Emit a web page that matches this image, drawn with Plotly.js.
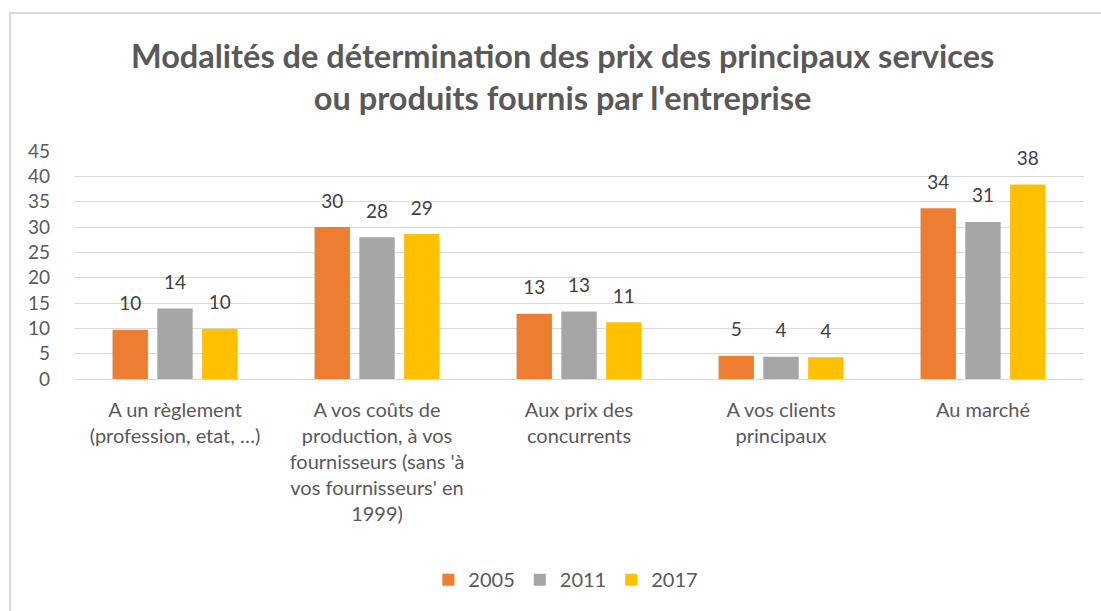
<!DOCTYPE html>
<html>
<head>
<meta charset="utf-8">
<script src="https://cdn.plot.ly/plotly-3.0.1.min.js"></script>
<style>
  html, body { margin: 0; padding: 0; background: #ffffff; }
  #wrap { position: relative; width: 1101px; height: 611px; overflow: hidden; }
  #chart { position: absolute; left: 0; top: 0; width: 1101px; height: 611px; }
  #frame { position: absolute; left: 9px; top: 12px; width: 1200px; height: 700px;
           border-left: 2px solid #d9d9d9; border-top: 2px solid #d9d9d9; pointer-events: none; }
</style>
</head>
<body>
<div id="wrap">
  <div id="chart"></div>
  <div id="frame"></div>
</div>
<script>
const categories = [
  "A un règlement<br>(profession, etat, …)",
  "A vos coûts de<br>production, à vos<br>fournisseurs (sans 'à<br>vos fournisseurs' en<br>1999)",
  "Aux prix des<br>concurrents",
  "A vos clients<br>principaux",
  "Au marché"
];
const seriesNames = ["2005", "2011", "2017"];
const values2005 = [9.7, 30.0, 12.9, 4.6, 33.7];
const values2011 = [13.9, 28.0, 13.3, 4.4, 31.0];
const values2017 = [9.9, 28.6, 11.2, 4.3, 38.4];
const colors = ["#ED7D31", "#A5A5A5", "#FFC000"];
const yTicks = [0, 5, 10, 15, 20, 25, 30, 35, 40, 45];

const FONT = "Lato, 'Open Sans', sans-serif";
const allValues = [values2005, values2011, values2017];

const traces = [];
allValues.forEach((vals, i) => {
  traces.push({
    type: "bar",
    name: seriesNames[i],
    x: categories,
    y: vals,
    marker: { color: colors[i] },
    hoverinfo: "x+y"
  });
});
allValues.forEach((vals, i) => {
  traces.push({
    type: "scatter",
    mode: "markers+text",
    x: categories,
    y: vals,
    text: vals.map(v => String(Math.round(v))),
    textposition: "top center",
    textfont: { family: FONT, size: 19, color: "#404040" },
    marker: { size: 22, opacity: 0, color: colors[i] },
    showlegend: false,
    hoverinfo: "skip",
    cliponaxis: false
  });
});

const layout = {
  width: 1101,
  height: 611,
  paper_bgcolor: "#ffffff",
  plot_bgcolor: "#ffffff",
  margin: { l: 74, r: 17, t: 151, b: 232, pad: 0 },
  title: {
    text: "Modalités de détermination des prix des principaux services<br>ou produits fournis par l'entreprise",
    font: { family: FONT, size: 32.5, color: "#595959", weight: "bold" },
    x: 0.511, xanchor: "center",
    y: 0.889, yanchor: "middle"
  },
  barmode: "group",
  bargap: 0.335,
  bargroupgap: 0.21,
  scattermode: "group",
  scattergap: 0.335,
  showlegend: true,
  legend: {
    orientation: "h",
    x: 0.487, xanchor: "center",
    y: -0.88, yanchor: "middle",
    font: { family: FONT, size: 20, color: "#595959" },
    traceorder: "normal",
    itemclick: false
  },
  xaxis: {
    type: "category",
    showgrid: false,
    zeroline: false,
    showline: true,
    linecolor: "#d9d9d9",
    linewidth: 1,
    ticks: "",
    tickfont: { family: FONT, size: 20, color: "#595959" },
    ticklabelstandoff: 13,
    fixedrange: true
  },
  yaxis: {
    range: [0, 45],
    tickvals: yTicks,
    ticktext: yTicks.map(String),
    showgrid: true,
    gridcolor: "#d9d9d9",
    gridwidth: 1,
    zeroline: false,
    showline: false,
    ticks: "",
    tickfont: { family: FONT, size: 19, color: "#595959" },
    ticklabelstandoff: 23,
    fixedrange: true
  }
};

Plotly.newPlot("chart", traces, layout, { displayModeBar: false, staticPlot: true });
</script>
</body>
</html>
